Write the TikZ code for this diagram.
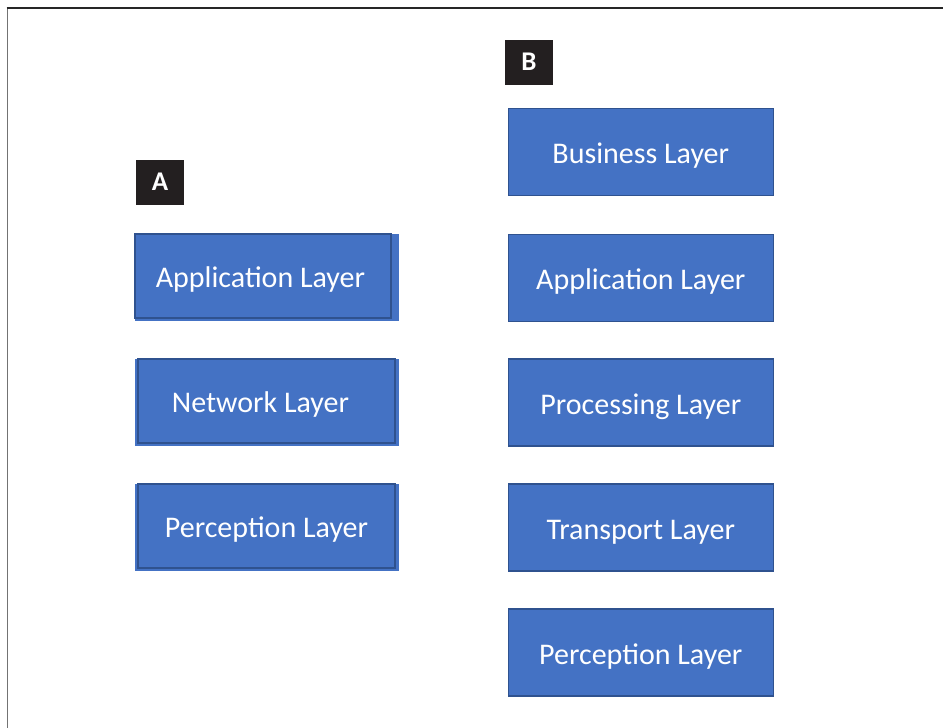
\documentclass[tikz,border=0pt]{standalone}
\usepackage{fontspec}
\setmainfont{Carlito}
\definecolor{layerblue}{HTML}{4472C4}
\definecolor{layeredge}{HTML}{2F528F}
\definecolor{tagblack}{HTML}{231F20}
\tikzset{
  layer/.style={draw=layeredge, line width=1.2pt, fill=layerblue, text=white,
    inner sep=0pt, minimum width=265pt, minimum height=87pt,
    text height=23pt, text depth=0pt,
    font=\fontsize{30}{30}\selectfont},
  tag/.style={fill=tagblack, text=white, inner sep=0pt,
    minimum width=48pt, minimum height=45pt,
    text height=16pt, text depth=0pt,
    font=\bfseries\fontsize{27}{27}\selectfont}
}
\begin{document}
\begin{tikzpicture}[x=1pt, y=-1pt]
\useasboundingbox (0,0) rectangle (943,728);
\draw[black!55, line width=1.7pt] (7.5,728) -- (7.5,8);
\draw[black!85, line width=1.5pt] (6.7,8) -- (943,8);
% model A
\node[tag] (tagA) at (160,182) {A};
\fill[layerblue] (135,234) rectangle (399,321);
\node[layer, minimum width=256pt, minimum height=84pt] (appA) at (263,276) {Application Layer\kern5pt};
\fill[layerblue] (135,359) rectangle (399,446);
\node[layer, minimum width=257pt, minimum height=84pt] (netA) at (266.5,401) {Network Layer\kern12pt};
\fill[layerblue] (135,484) rectangle (399,571);
\node[layer, minimum width=257pt, minimum height=84pt] (perA) at (266.5,526) {Perception Layer};
% model B
\node[tag] (tagB) at (529,62.5) {B};
\node[layer] (busB) at (640.8,152.2) {Business Layer};
\node[layer] (appB) at (640.8,277.8) {Application Layer};
\node[layer] (proB) at (640.8,402.5) {Processing Layer};
\node[layer] (traB) at (640.8,527.5) {Transport Layer};
\node[layer] (perB) at (640.8,652.5) {Perception Layer};
\end{tikzpicture}
\end{document}
